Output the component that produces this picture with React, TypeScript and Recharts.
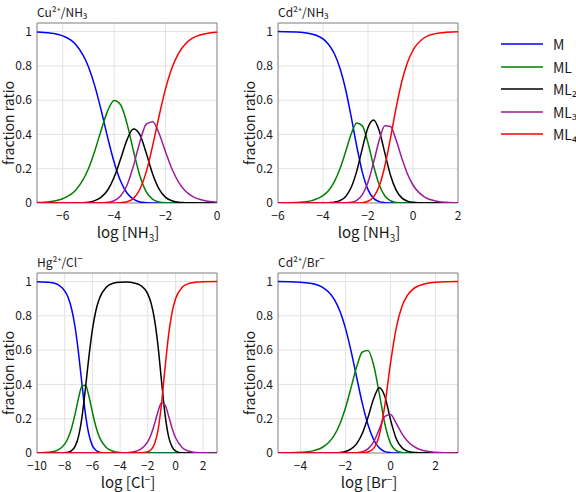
import type { ReactNode } from 'react';
import { LineChart, Line, XAxis, YAxis, CartesianGrid, ReferenceArea } from 'recharts';

const FONT = '"Noto Sans CJK JP", "Noto Sans", sans-serif';
const SERIES = ['M', 'ML', 'ML2', 'ML3', 'ML4'];
const LEGEND_LABELS = ['M', 'ML', 'ML₂', 'ML₃', 'ML₄'];
const COLORS = ['#0000ff', '#008000', '#000000', '#9b1d9b', '#ff0000'];
const yTicks = [0, 0.2, 0.4, 0.6, 0.8, 1];

// Cu2+ / NH3
const cuX = [-7, -6.5, -6, -5.5, -5, -4.75, -4.5, -4.25, -4, -3.75, -3.5, -3.25, -3, -2.75, -2.5, -2.25, -2, -1.75, -1.5, -1.25, -1, -0.5, 0];
const cuM = [0.998, 0.992, 0.975, 0.926, 0.795, 0.682, 0.538, 0.381, 0.238, 0.128, 0.058, 0.022, 0.006, 0.002, 0, 0, 0, 0, 0, 0, 0, 0, 0];
const cuML = [0.003, 0.008, 0.025, 0.074, 0.2, 0.305, 0.427, 0.539, 0.598, 0.573, 0.463, 0.305, 0.159, 0.065, 0.021, 0.006, 0.001, 0, 0, 0, 0, 0, 0];
const cuML2 = [0, 0, 0, 0.001, 0.005, 0.014, 0.034, 0.076, 0.15, 0.256, 0.368, 0.431, 0.399, 0.29, 0.168, 0.081, 0.033, 0.013, 0.004, 0.002, 0.001, 0, 0];
const cuML3 = [0, 0, 0, 0, 0, 0, 0.001, 0.004, 0.013, 0.041, 0.104, 0.216, 0.356, 0.46, 0.474, 0.404, 0.298, 0.198, 0.123, 0.073, 0.043, 0.014, 0.005];
const cuML4 = [0, 0, 0, 0, 0, 0, 0, 0, 0, 0.002, 0.007, 0.027, 0.08, 0.183, 0.336, 0.509, 0.667, 0.789, 0.872, 0.925, 0.957, 0.986, 0.996];
const cuTicks = [-6, -4, -2, 0];

// Cd2+ / NH3
const cdX = [-6, -5, -4.5, -4, -3.75, -3.5, -3.25, -3, -2.75, -2.5, -2.25, -2, -1.75, -1.5, -1.25, -1, -0.75, -0.5, -0.25, 0, 0.5, 1, 1.5, 2];
const cdM = [1, 0.996, 0.986, 0.957, 0.925, 0.872, 0.788, 0.665, 0.505, 0.331, 0.179, 0.078, 0.027, 0.008, 0.002, 0, 0, 0, 0, 0, 0, 0, 0, 0];
const cdML = [0, 0.004, 0.014, 0.043, 0.073, 0.123, 0.198, 0.297, 0.401, 0.467, 0.45, 0.35, 0.216, 0.106, 0.041, 0.013, 0.003, 0.001, 0, 0, 0, 0, 0, 0];
const cdML2 = [0, 0, 0, 0.001, 0.002, 0.005, 0.014, 0.037, 0.09, 0.186, 0.319, 0.44, 0.484, 0.421, 0.291, 0.162, 0.075, 0.03, 0.011, 0.004, 0, 0, 0, 0];
const cdML3 = [0, 0, 0, 0, 0, 0, 0, 0.001, 0.004, 0.016, 0.049, 0.121, 0.237, 0.367, 0.451, 0.446, 0.367, 0.263, 0.171, 0.105, 0.036, 0.012, 0.004, 0.001];
const cdML4 = [0, 0, 0, 0, 0, 0, 0, 0, 0, 0, 0.002, 0.01, 0.036, 0.099, 0.216, 0.379, 0.555, 0.707, 0.818, 0.891, 0.964, 0.988, 0.996, 0.999];
const cdTicks = [-6, -4, -2, 0, 2];

// Hg2+ / Cl-
const hgX = [-10, -9, -8.5, -8, -7.75, -7.5, -7.25, -7, -6.75, -6.5, -6.25, -6, -5.75, -5.5, -5, -4.5, -4, -3.5, -3, -2.5, -2, -1.75, -1.5, -1.25, -1, -0.75, -0.5, -0.25, 0, 0.5, 1, 1.5, 2, 3];
const hgM = [0.999, 0.995, 0.983, 0.946, 0.907, 0.84, 0.735, 0.583, 0.4, 0.227, 0.107, 0.043, 0.016, 0.005, 0.001, 0, 0, 0, 0, 0, 0, 0, 0, 0, 0, 0, 0, 0, 0, 0, 0, 0, 0, 0];
const hgML = [0.001, 0.006, 0.017, 0.052, 0.089, 0.146, 0.227, 0.32, 0.391, 0.395, 0.331, 0.238, 0.155, 0.094, 0.032, 0.01, 0.003, 0.001, 0, 0, 0, 0, 0, 0, 0, 0, 0, 0, 0, 0, 0, 0, 0, 0];
const hgML2 = [0, 0, 0, 0.002, 0.005, 0.014, 0.039, 0.097, 0.21, 0.378, 0.562, 0.719, 0.83, 0.9, 0.967, 0.99, 0.996, 0.997, 0.992, 0.977, 0.928, 0.871, 0.772, 0.617, 0.414, 0.222, 0.097, 0.037, 0.013, 0.001, 0, 0, 0, 0];
const hgML3 = [0, 0, 0, 0, 0, 0, 0, 0, 0, 0, 0, 0, 0, 0, 0, 0, 0.001, 0.002, 0.007, 0.022, 0.066, 0.11, 0.173, 0.245, 0.293, 0.28, 0.217, 0.146, 0.09, 0.031, 0.01, 0.003, 0.001, 0];
const hgML4 = [0, 0, 0, 0, 0, 0, 0, 0, 0, 0, 0, 0, 0, 0, 0, 0, 0, 0, 0, 0.001, 0.007, 0.02, 0.055, 0.138, 0.293, 0.498, 0.686, 0.818, 0.898, 0.968, 0.99, 0.997, 0.999, 1];
const hgTicks = [-10, -8, -6, -4, -2, 0, 2];

// Cd2+ / Br-
const brX = [-5, -4.5, -4, -3.5, -3, -2.75, -2.5, -2.25, -2, -1.75, -1.5, -1.25, -1, -0.75, -0.5, -0.25, 0, 0.25, 0.5, 0.75, 1, 1.25, 1.5, 2, 2.5, 3];
const brM = [1, 0.999, 0.996, 0.989, 0.965, 0.939, 0.896, 0.828, 0.727, 0.593, 0.439, 0.288, 0.165, 0.079, 0.03, 0.008, 0.002, 0, 0, 0, 0, 0, 0, 0, 0, 0];
const brML = [0, 0.001, 0.004, 0.011, 0.035, 0.061, 0.103, 0.169, 0.264, 0.383, 0.504, 0.589, 0.598, 0.513, 0.348, 0.169, 0.056, 0.014, 0.003, 0.001, 0, 0, 0, 0, 0, 0];
const brML2 = [0, 0, 0, 0, 0, 0, 0.001, 0.003, 0.009, 0.024, 0.055, 0.115, 0.208, 0.316, 0.381, 0.33, 0.195, 0.085, 0.032, 0.011, 0.004, 0.001, 0, 0, 0, 0];
const brML3 = [0, 0, 0, 0, 0, 0, 0, 0, 0, 0.001, 0.002, 0.007, 0.024, 0.065, 0.138, 0.213, 0.224, 0.174, 0.115, 0.07, 0.041, 0.023, 0.013, 0.004, 0.001, 0];
const brML4 = [0, 0, 0, 0, 0, 0, 0, 0, 0, 0, 0, 0.001, 0.006, 0.027, 0.103, 0.28, 0.524, 0.726, 0.851, 0.919, 0.956, 0.975, 0.986, 0.996, 0.999, 1];
const brTicks = [-4, -2, 0, 2];

const fmt = (v: number) => String(v).replace('-', '\u2212');
const tickStyle = { fontSize: 12, fill: '#1a1a1a', fontFamily: FONT };

interface PanelProps {
  left: number;
  top: number;
  xs: number[];
  ys: number[][];
  domain: [number, number];
  ticks: number[];
  title: ReactNode;
  xLabel: ReactNode;
}

const Panel = ({ left, top, xs, ys, domain, ticks, title, xLabel }: PanelProps) => {
  const rows = xs.map((x, i) => {
    const r: Record<string, number> = { x };
    SERIES.forEach((k, j) => (r[k] = ys[j][i]));
    return r;
  });

  return (
    <div style={{ position: 'absolute', left, top, width: 236, height: 250, fontFamily: FONT, color: '#1a1a1a' }}>
      <div style={{ position: 'absolute', left: 37, top: 5, fontSize: 12, lineHeight: '14px', whiteSpace: 'nowrap' }}>{title}</div>
      {/* vertical text box, flipped so it reads bottom to top */}
      <div
        style={{
          position: 'absolute', left: 1, top: 73, height: 100, fontSize: 14, lineHeight: '14px',
          whiteSpace: 'nowrap', writingMode: 'vertical-rl', transform: 'rotate(180deg)', textAlign: 'center',
        }}
      >
        fraction ratio
      </div>
      <div
        style={{
          position: 'absolute', left: 128, top: 224, fontSize: 15, lineHeight: '16px',
          whiteSpace: 'nowrap', transform: 'translateX(-50%)',
        }}
      >
        {xLabel}
      </div>
      <div style={{ position: 'absolute', left: 0, top: 0 }}>
        <LineChart width={230} height={233} data={rows} margin={{ top: 23, right: 13, bottom: 0, left: 0 }}>
          <CartesianGrid stroke="#e3e3e3" />
          <XAxis
            dataKey="x"
            type="number"
            domain={domain}
            ticks={ticks}
            allowDataOverflow
            axisLine={false}
            tickLine={false}
            tickSize={6}
            tick={tickStyle}
            tickFormatter={fmt}
            height={30}
          />
          <YAxis
            type="number"
            domain={[0, 1.05]}
            ticks={yTicks}
            allowDataOverflow
            axisLine={false}
            tickLine={false}
            tickSize={3}
            tickMargin={2}
            tick={tickStyle}
            width={37}
          />
          <ReferenceArea x1={domain[0]} x2={domain[1]} y1={0} y2={1.05} fill="none" stroke="#8a8a8a" strokeWidth={1} />
          {SERIES.map((k, j) => (
            <Line
              key={k}
              type="monotone"
              dataKey={k}
              stroke={COLORS[j]}
              strokeWidth={1.5}
              dot={false}
              isAnimationActive={false}
            />
          ))}
        </LineChart>
      </div>
    </div>
  );
};

const Legend = () => (
  <div style={{ position: 'absolute', left: 0, top: 0, fontFamily: FONT, color: '#1a1a1a' }}>
    {LEGEND_LABELS.map((label, i) => {
      const y = 44 + i * 22.5;
      return (
        <div key={label}>
          <svg style={{ position: 'absolute', left: 501, top: y - 2 }} width={42} height={4}>
            <line x1={0} y1={2} x2={42} y2={2} stroke={COLORS[i]} strokeWidth={1.5} />
          </svg>
          <div style={{ position: 'absolute', left: 553, top: y - 8, fontSize: 14, lineHeight: '16px' }}>{label}</div>
        </div>
      );
    })}
  </div>
);

const sub = (t: string) => <span style={{ fontSize: 10, position: 'relative', top: 4 }}>{t}</span>;
const sup = (t: string) => <span style={{ fontSize: 10, position: 'relative', top: -5 }}>{t}</span>;

export default function App() {
  return (
    <div style={{ position: 'absolute', left: 0, top: 0, width: 576, height: 492, background: '#fff' }}>
      <Panel
        left={0}
        top={0}
        xs={cuX}
        ys={[cuM, cuML, cuML2, cuML3, cuML4]}
        domain={[-7, 0]}
        ticks={cuTicks}
        title="Cu²⁺/NH₃"
        xLabel={<>log [NH{sub('3')}]</>}
      />
      <Panel
        left={241}
        top={0}
        xs={cdX}
        ys={[cdM, cdML, cdML2, cdML3, cdML4]}
        domain={[-6, 2]}
        ticks={cdTicks}
        title="Cd²⁺/NH₃"
        xLabel={<>log [NH{sub('3')}]</>}
      />
      <Panel
        left={0}
        top={250}
        xs={hgX}
        ys={[hgM, hgML, hgML2, hgML3, hgML4]}
        domain={[-10, 3]}
        ticks={hgTicks}
        title={<>Hg²⁺/Cl{sup('−')}</>}
        xLabel={<>log [Cl{sup('−')}]</>}
      />
      <Panel
        left={241}
        top={250}
        xs={brX}
        ys={[brM, brML, brML2, brML3, brML4]}
        domain={[-5, 3]}
        ticks={brTicks}
        title={<>Cd²⁺/Br{sup('−')}</>}
        xLabel={<>log [Br{sup('−')}]</>}
      />
      <Legend />
    </div>
  );
}
